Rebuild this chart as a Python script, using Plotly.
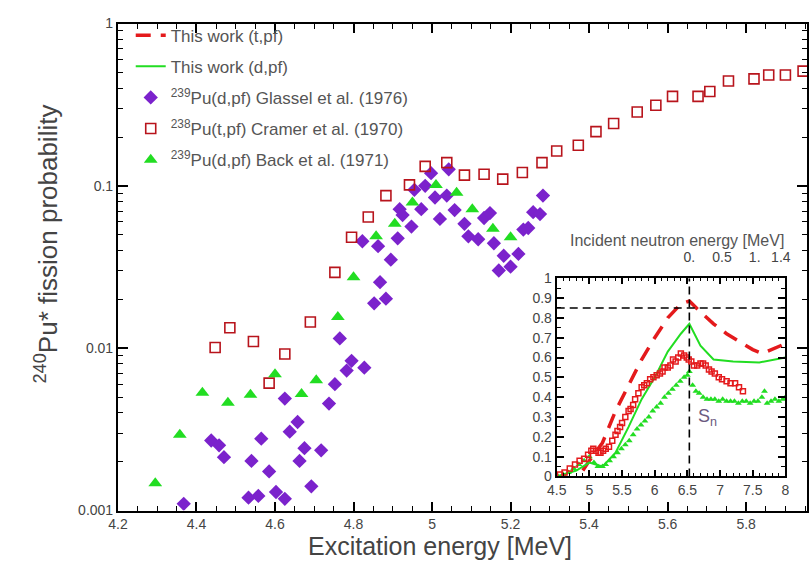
import plotly.graph_objects as go

# ---- Main panel data: 240Pu* fission probability vs excitation energy ----
glassel_x = [4.3675, 4.4375, 4.4575, 4.47, 4.5325, 4.54, 4.5575, 4.565, 4.585, 4.6025,
             4.625, 4.625, 4.6375, 4.6575, 4.6625, 4.675, 4.6925, 4.7175, 4.7375, 4.7525,
             4.765, 4.7825, 4.795, 4.8275, 4.8225, 4.8525, 4.8625, 4.8675, 4.8825, 4.895,
             4.9125, 4.9175, 4.925, 4.9475, 4.955, 4.9725, 4.9825, 4.9975, 5.0075, 5.02,
             5.0375, 5.0425, 5.0575, 5.0825, 5.0925, 5.1175, 5.1325, 5.1475, 5.1575, 5.17,
             5.1825, 5.2, 5.22, 5.2325, 5.245, 5.2575, 5.275, 5.2825]
glassel_y = [0.00110, 0.00270, 0.00252, 0.00213, 0.00120, 0.00202, 0.00123, 0.00277, 0.00174, 0.00130,
             0.00118, 0.00489, 0.00306, 0.00351, 0.00202, 0.00242, 0.00141, 0.00235, 0.00456, 0.00600,
             0.01148, 0.00728, 0.00836, 0.00759, 0.0456, 0.0189, 0.0425, 0.0255, 0.0202, 0.0351,
             0.0475, 0.0718, 0.0661, 0.0561, 0.0946, 0.0718, 0.100, 0.1197, 0.0848, 0.0626,
             0.0871, 0.1264, 0.0709, 0.0584, 0.0489, 0.0469, 0.0634, 0.0680, 0.0443, 0.0301,
             0.0371, 0.0318, 0.0381, 0.0538, 0.0550, 0.0689, 0.0670, 0.0871]

cramer_x = [4.4475, 4.485, 4.545, 4.585, 4.625, 4.69, 4.7525, 4.795, 4.8375, 4.8825,
            4.9425, 4.9825, 5.0375, 5.0825, 5.1325, 5.18, 5.23, 5.28, 5.3175, 5.3725,
            5.4175, 5.4625, 5.5225, 5.57, 5.6125, 5.6775, 5.7075, 5.755, 5.82, 5.8575,
            5.90, 5.945]
cramer_y = [0.0101, 0.01336, 0.0110, 0.00609, 0.0092, 0.0145, 0.0293, 0.0482, 0.0643, 0.0871,
            0.1014, 0.1318, 0.139, 0.1164, 0.118, 0.110, 0.121, 0.139, 0.164, 0.178,
            0.216, 0.242, 0.285, 0.314, 0.356, 0.356, 0.381, 0.443, 0.456, 0.482,
            0.482, 0.509]

back_x = [4.295, 4.3575, 4.415, 4.48, 4.5375, 4.60, 4.6675, 4.705, 4.76, 4.80,
          4.8575, 4.905, 4.95, 5.01, 5.0625, 5.1025, 5.155, 5.20]
back_y = [0.00147, 0.00293, 0.00531, 0.00462, 0.00516, 0.00690, 0.00523, 0.00634, 0.01555, 0.0274,
          0.0489, 0.0584, 0.0791, 0.1014, 0.0908, 0.0718, 0.0545, 0.0482]

# ---- Inset data (linear scale) ----
sn = 6.53  # neutron separation energy of 240Pu [MeV]

tpf_model_x = [4.9, 5.0, 5.2, 5.4, 5.6, 5.8, 6.0, 6.2, 6.4, 6.53, 6.7, 6.9, 7.1, 7.3, 7.5, 7.65, 7.8, 8.0]
tpf_model_y = [0.03, 0.08, 0.17, 0.33, 0.46, 0.59, 0.70, 0.80, 0.87, 0.885, 0.83, 0.77, 0.72, 0.68, 0.64, 0.62, 0.64, 0.67]

dpf_model_x = [4.5, 4.8, 5.0, 5.2, 5.4, 5.6, 5.8, 6.0, 6.2, 6.4, 6.53, 6.7, 6.9, 7.2, 7.6, 8.0]
dpf_model_y = [0.0, 0.03, 0.07, 0.05, 0.12, 0.25, 0.39, 0.50, 0.63, 0.72, 0.77, 0.66, 0.59, 0.58, 0.575, 0.60]

inset_tpf_x = [4.55, 4.62, 4.70, 4.78, 4.85, 4.92, 4.98, 5.03, 5.06, 5.10, 5.14, 5.17, 5.21, 5.25,
               5.30, 5.35, 5.40, 5.43, 5.47, 5.50, 5.55, 5.60, 5.63, 5.67, 5.70, 5.75, 5.80, 5.84,
               5.88, 5.93, 5.98, 6.03, 6.08, 6.12, 6.15, 6.20, 6.24, 6.28, 6.32, 6.36, 6.40, 6.45,
               6.49, 6.52, 6.56, 6.60, 6.65, 6.70, 6.74, 6.78, 6.83, 6.87, 6.92, 6.98, 7.03, 7.10,
               7.16, 7.23, 7.29, 7.35]
inset_tpf_y = [0.01, 0.02, 0.04, 0.06, 0.08, 0.09, 0.11, 0.13, 0.14, 0.13, 0.12, 0.12, 0.13, 0.14,
               0.15, 0.18, 0.21, 0.23, 0.25, 0.27, 0.30, 0.33, 0.34, 0.36, 0.39, 0.42, 0.45, 0.46,
               0.47, 0.49, 0.50, 0.51, 0.52, 0.53, 0.55, 0.55, 0.56, 0.59, 0.58, 0.60, 0.62, 0.61,
               0.60, 0.59, 0.58, 0.56, 0.56, 0.57, 0.57, 0.56, 0.54, 0.53, 0.52, 0.50, 0.49, 0.48,
               0.47, 0.47, 0.45, 0.43]

inset_dpf_x = [4.52, 4.60, 4.68, 4.76, 4.84, 4.92, 5.00, 5.07, 5.13, 5.20, 5.25, 5.31, 5.37, 5.43,
               5.49, 5.55, 5.61, 5.67, 5.73, 5.79, 5.85, 5.91, 5.97, 6.03, 6.09, 6.15, 6.21, 6.27,
               6.33, 6.39, 6.45, 6.50, 6.53, 6.58, 6.63, 6.68, 6.74, 6.80, 6.86, 6.92, 6.98, 7.04,
               7.10, 7.16, 7.22, 7.28, 7.34, 7.40, 7.46, 7.52, 7.58, 7.64, 7.68, 7.72, 7.78, 7.84,
               7.90, 7.96, 8.00]
inset_dpf_y = [0.00, 0.01, 0.02, 0.04, 0.06, 0.08, 0.10, 0.07, 0.05, 0.05, 0.06, 0.08, 0.10, 0.12,
               0.14, 0.16, 0.18, 0.21, 0.24, 0.26, 0.28, 0.30, 0.33, 0.35, 0.37, 0.40, 0.42, 0.44,
               0.46, 0.48, 0.50, 0.51, 0.53, 0.46, 0.43, 0.42, 0.40, 0.39, 0.39, 0.39, 0.38, 0.39,
               0.38, 0.38, 0.38, 0.37, 0.38, 0.38, 0.37, 0.38, 0.38, 0.40, 0.43, 0.37, 0.38, 0.39,
               0.38, 0.39, 0.40]

top_tick_vals = [0.0, 0.5, 1.0, 1.4]
top_tick_text = ["0.", "0.5", "1.", "1.4"]

FONT = "Liberation Sans, Arial, sans-serif"
PURPLE = "#7b22cc"
DARKRED = "#b8141c"
RED = "#e41a1c"
GREEN = "#22dd22"
TXT = "#444444"

fig = go.Figure()

# Inset curves carry the two "This work" legend entries
fig.add_trace(go.Scatter(x=tpf_model_x, y=tpf_model_y, xaxis="x2", yaxis="y2", mode="lines",
                         line=dict(color=RED, width=3.5, dash="15px,10px"),
                         name="This work (t,pf)", legendgroup="a"))
fig.add_trace(go.Scatter(x=dpf_model_x, y=dpf_model_y, xaxis="x2", yaxis="y2", mode="lines",
                         line=dict(color=GREEN, width=2),
                         name="This work (d,pf)", legendgroup="b"))

# Main panel data
fig.add_trace(go.Scatter(x=glassel_x, y=glassel_y, mode="markers",
                         marker=dict(symbol="diamond", size=11, color=PURPLE),
                         name="<sup>239</sup>Pu(d,pf) Glassel et al. (1976)", legendgroup="c"))
fig.add_trace(go.Scatter(x=cramer_x, y=cramer_y, mode="markers",
                         marker=dict(symbol="square-open", size=10, color=DARKRED, line=dict(width=1.6)),
                         name="<sup>238</sup>Pu(t,pf) Cramer et al. (1970)", legendgroup="d"))
fig.add_trace(go.Scatter(x=back_x, y=back_y, mode="markers",
                         marker=dict(symbol="triangle-up", size=12, color=GREEN),
                         name="<sup>239</sup>Pu(d,pf) Back et al. (1971)", legendgroup="e"))

# Inset data points
fig.add_trace(go.Scatter(x=inset_dpf_x, y=inset_dpf_y, xaxis="x2", yaxis="y2", mode="markers",
                         marker=dict(symbol="triangle-up", size=6, color=GREEN), showlegend=False))
fig.add_trace(go.Scatter(x=inset_tpf_x, y=inset_tpf_y, xaxis="x2", yaxis="y2", mode="markers",
                         marker=dict(symbol="square-open", size=5, color=RED, line=dict(width=1.5)),
                         showlegend=False))
# Anchor for the inset's top (incident neutron energy) axis
fig.add_trace(go.Scatter(x=[0], y=[0.5], xaxis="x3", yaxis="y2", mode="markers",
                         marker=dict(opacity=0), showlegend=False, hoverinfo="skip"))

tf = dict(family=FONT, size=14, color=TXT)
main_minor_y = [m * 10 ** e for e in (-3, -2, -1) for m in range(2, 10)]


def frame(ticklen, minor, **kw):
    return dict(showline=True, linecolor="#000000", linewidth=2, mirror="ticks",
                ticks="inside", ticklen=ticklen, tickwidth=2, tickcolor="#000000",
                minor=minor, showgrid=False, zeroline=False, tickfont=tf, **kw)


fig.update_layout(
    width=812, height=571,
    margin=dict(l=0, r=0, t=0, b=0),
    paper_bgcolor="white", plot_bgcolor="rgba(0,0,0,0)",
    font=dict(family=FONT, color=TXT),
    xaxis=frame(9, dict(dtick=0.05, ticks="inside", ticklen=5, tickwidth=1.2, tickcolor="#000000"),
                domain=[110 / 812, 1.0], range=[4.2, 5.955], tick0=4.2, dtick=0.2, anchor="y"),
    yaxis=frame(10, dict(tickvals=main_minor_y, ticks="inside", ticklen=5, tickwidth=1.2, tickcolor="#000000"),
                domain=[1 - 517 / 571, 1 - 16 / 571], type="log", range=[-3, 0], anchor="x",
                tickvals=[0.001, 0.01, 0.1, 1], ticktext=["0.001", "0.01", "0.1", "1"]),
    xaxis2=frame(6, dict(dtick=0.1, ticks="inside", ticklen=3, tickwidth=1.1, tickcolor="#000000"),
                 domain=[557 / 812, 790 / 812], range=[4.5, 8.0], tick0=4.5, dtick=0.5, anchor="y2"),
    yaxis2=frame(7, dict(dtick=0.05, ticks="inside", ticklen=4, tickwidth=1.1, tickcolor="#000000"),
                 domain=[1 - 482 / 571, 1 - 278 / 571], range=[0, 1], tick0=0, dtick=0.1, anchor="x2"),
    xaxis3=dict(overlaying="x2", side="top", anchor="y2",
                range=[4.5 - sn, 8.0 - sn], tickvals=top_tick_vals, ticktext=top_tick_text,
                ticks="", showgrid=False, zeroline=False, showline=False,
                ticklabelstandoff=12, tickfont=tf),
    legend=dict(x=123 / 812, y=1 - 10 / 571, xanchor="left", yanchor="top",
                bgcolor="rgba(0,0,0,0)", font=dict(family=FONT, size=17, color="#555"),
                tracegroupgap=6, traceorder="grouped"),
    showlegend=True,
)

# Reference lines in the inset: Sn and a horizontal guide
fig.add_shape(type="line", xref="x2", yref="y2", x0=sn, x1=sn, y0=0, y1=1,
              line=dict(color="black", width=1.6, dash="8px,5px"))
fig.add_shape(type="line", xref="x2", yref="y2", x0=4.5, x1=8.0, y0=0.85, y1=0.85,
              line=dict(color="black", width=1.6, dash="8px,5px"))

fig.add_annotation(x=6.8, y=0.30, xref="x2", yref="y2", text="S<sub>n</sub>", showarrow=False,
                   font=dict(family=FONT, size=18, color="#6a5a80"))
fig.add_annotation(x=680 / 812, y=1 - 239 / 571, xref="paper", yref="paper",
                   xanchor="center", yanchor="middle",
                   text="Incident neutron energy [MeV]", showarrow=False,
                   font=dict(family=FONT, size=16, color="#555"))

# Axis titles
fig.add_annotation(x=438 / 812, y=1 - 554 / 571, xref="paper", yref="paper",
                   xanchor="center", yanchor="middle",
                   text="Excitation energy [MeV]", showarrow=False,
                   font=dict(family=FONT, size=25, color=TXT))
fig.add_annotation(x=37 / 812, y=1 - 243 / 571, xref="paper", yref="paper", textangle=-90,
                   xanchor="center", yanchor="middle",
                   text="<sup>240</sup>Pu* fission probability", showarrow=False,
                   font=dict(family=FONT, size=26, color=TXT))

fig.write_html("out.html")
